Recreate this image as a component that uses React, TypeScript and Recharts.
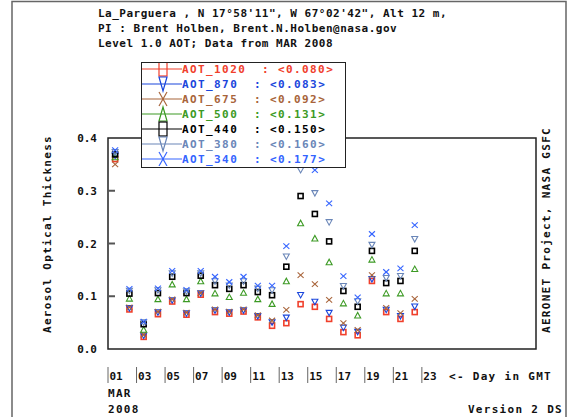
import React from 'react';
import { ScatterChart, Scatter, XAxis, YAxis, ReferenceArea, Legend } from 'recharts';

// day of month (March 2008), daily means plotted at local noon
const days = [1, 2, 3, 4, 5, 6, 7, 8, 9, 10, 11, 12, 13, 14, 15, 16, 17, 18, 19, 20, 21, 22];

const aot1020 = [0.360, 0.075, 0.023, 0.066, 0.090, 0.065, 0.103, 0.070, 0.067, 0.071, 0.060, 0.044, 0.049, 0.085, 0.080, 0.057, 0.032, 0.026, 0.129, 0.070, 0.057, 0.070];
const aot870 = [0.366, 0.077, 0.025, 0.069, 0.092, 0.067, 0.105, 0.073, 0.069, 0.073, 0.062, 0.050, 0.059, 0.102, 0.089, 0.068, 0.040, 0.032, 0.132, 0.074, 0.062, 0.080];
const aot675 = [0.350, 0.079, 0.027, 0.071, 0.094, 0.069, 0.106, 0.075, 0.071, 0.075, 0.064, 0.054, 0.074, 0.140, 0.123, 0.093, 0.049, 0.036, 0.140, 0.078, 0.068, 0.095];
const aot500 = [0.364, 0.096, 0.037, 0.095, 0.123, 0.095, 0.129, 0.106, 0.099, 0.107, 0.095, 0.086, 0.129, 0.239, 0.210, 0.165, 0.087, 0.064, 0.170, 0.106, 0.106, 0.152];
const aot440 = [0.369, 0.105, 0.047, 0.106, 0.137, 0.106, 0.139, 0.121, 0.114, 0.121, 0.108, 0.102, 0.156, 0.290, 0.256, 0.204, 0.110, 0.080, 0.186, 0.125, 0.129, 0.186];
const aot380 = [0.373, 0.110, 0.050, 0.111, 0.143, 0.109, 0.143, 0.128, 0.120, 0.128, 0.114, 0.111, 0.175, 0.339, 0.295, 0.240, 0.119, 0.090, 0.197, 0.134, 0.138, 0.208];
const aot340 = [0.377, 0.114, 0.052, 0.115, 0.148, 0.112, 0.148, 0.137, 0.127, 0.137, 0.120, 0.120, 0.195, 0.385, 0.339, 0.276, 0.138, 0.098, 0.218, 0.146, 0.153, 0.235];

const seriesNames = ['AOT_1020', 'AOT_870', 'AOT_675', 'AOT_500', 'AOT_440', 'AOT_380', 'AOT_340'];
const seriesMeans = ['0.080', '0.083', '0.092', '0.131', '0.150', '0.160', '0.177'];
const yTicks = [0, 0.1, 0.2, 0.3, 0.4];
const xTicks = [1, 3, 5, 7, 9, 11, 13, 15, 17, 19, 21, 23];

const SERIES = [
  { values: aot1020, color: '#f0402c', shape: 'square' },
  { values: aot870, color: '#1a46dc', shape: 'down' },
  { values: aot675, color: '#a8643a', shape: 'x' },
  { values: aot500, color: '#3c9a24', shape: 'up' },
  { values: aot440, color: '#000000', shape: 'square' },
  { values: aot380, color: '#6a86b8', shape: 'down' },
  { values: aot340, color: '#3464ff', shape: 'x' },
].map((s, i) => ({
  ...s,
  name: seriesNames[i],
  mean: seriesMeans[i],
  data: days.map((d, j) => ({ x: d + 0.5, y: s.values[j] })),
}));

const FONT = '"DejaVu Sans Mono", monospace';
const CHAR_W = 8;

const drawMarker = (shape: string, cx: number, cy: number, w: number, h: number, color: string, sw: number) => {
  const l = cx - w / 2, r = cx + w / 2, t = cy - h / 2, b = cy + h / 2;
  switch (shape) {
    case 'square':
      return <rect x={l} y={t} width={w} height={h} fill="none" stroke={color} strokeWidth={sw} />;
    case 'down':
      return <path d={`M${l},${t} L${r},${t} L${cx},${b} Z`} fill="none" stroke={color} strokeWidth={sw} />;
    case 'up':
      return <path d={`M${l},${b} L${r},${b} L${cx},${t} Z`} fill="none" stroke={color} strokeWidth={sw} />;
    default:
      return (
        <g stroke={color} strokeWidth={sw}>
          <line x1={l} y1={t} x2={r} y2={b} />
          <line x1={l} y1={b} x2={r} y2={t} />
        </g>
      );
  }
};

const LegendBox = () => (
  <div style={{ width: 205, height: 106, border: '1.5px solid #222', background: '#fff', boxSizing: 'border-box' }}>
    <svg width={202} height={103} style={{ display: 'block' }}>
      {SERIES.map((s, i) => {
        const y = 6 + i * 15;
        const colonX = 40 + (s.name.length + 2) * CHAR_W;
        return (
          <g key={s.name} fontFamily={FONT} fontWeight="bold" fontSize={11} letterSpacing={1.4} fill={s.color}>
            <line x1={0} x2={40} y1={y} y2={y} stroke={s.color} strokeWidth={1.2} />
            {drawMarker(s.shape, 21, y, 8, 14, s.color, 1.2)}
            <text x={40} y={y + 4}>{s.name}</text>
            <text x={colonX} y={y + 4}>:</text>
            <text x={colonX + 2 * CHAR_W} y={y + 4}>{`<${s.mean}>`}</text>
          </g>
        );
      })}
    </svg>
  </div>
);

const YTick = (props: any) => {
  const { y, payload } = props;
  const v = Number(payload.value);
  return (
    <g>
      <text x={97} y={y + 4} textAnchor="end" fontFamily={FONT} fontWeight="bold" fontSize={11} fill="#111">
        {v.toFixed(1)}
      </text>
      {v > 0 && v < 0.4 && <line x1={108} x2={115} y1={y} y2={y} stroke="#555" strokeWidth={2} />}
    </g>
  );
};

const XTick = (props: any) => {
  const { x, payload } = props;
  return (
    <g>
      <line x1={x} x2={x} y1={367} y2={383} stroke="#666" strokeWidth={1} />
      <text x={x + 1.5} y={380} fontFamily={FONT} fontWeight="bold" fontSize={11} fill="#111">
        {String(payload.value).padStart(2, '0')}
      </text>
    </g>
  );
};

const txt = { fontFamily: FONT, fontWeight: 'bold' as const, fontSize: 11, fill: '#111' };

export default function App() {
  return (
    <div style={{ position: 'absolute', left: 0, top: 0, width: 568, height: 417, background: '#fff', overflow: 'hidden' }}>
      <svg width={568} height={417} style={{ position: 'absolute', left: 0, top: 0 }}>
        <path d="M12,420 L12,1.5 L566,1.5 L566,420" fill="none" stroke="#666" strokeWidth={1.5} />
        <g {...txt} letterSpacing={0.5}>
          <text x={98} y={17}>La_Parguera , N 17°58'11", W 67°02'42", Alt 12 m,</text>
          <text x={98} y={32}>PI : Brent Holben, Brent.N.Holben@nasa.gov</text>
          <text x={98} y={47}>Level 1.0 AOT; Data from MAR 2008</text>
        </g>
        <g {...txt} letterSpacing={1.3}>
          <text x={51} y={234} textAnchor="middle" transform="rotate(-90, 51, 234)">Aerosol Optical Thickness</text>
          <text x={550} y={230} textAnchor="middle" transform="rotate(-90, 550, 230)">AERONET Project, NASA GSFC</text>
          <text x={449} y={380}>{'<- Day in GMT'}</text>
          <text x={108} y={397}>MAR</text>
          <text x={108} y={413}>2008</text>
          <text x={563} y={413} textAnchor="end">Version 2 DS</text>
        </g>
      </svg>
      <div style={{ position: 'absolute', left: 0, top: 0 }}>
        <ScatterChart width={568} height={417} margin={{ top: 138, right: 32, bottom: 38, left: 78 }}>
          <XAxis
            type="number"
            dataKey="x"
            domain={[1, 31]}
            ticks={xTicks}
            height={30}
            axisLine={false}
            tickLine={false}
            tick={XTick}
            interval={0}
          />
          <YAxis
            type="number"
            dataKey="y"
            domain={[0, 0.4]}
            ticks={yTicks}
            width={30}
            axisLine={false}
            tickLine={false}
            tick={YTick}
            interval={0}
          />
          <ReferenceArea x1={1} x2={31} y1={0} y2={0.4} fill="none" stroke="#222" strokeWidth={1.5} fillOpacity={0} />
          {SERIES.map((s) => (
            <Scatter
              key={s.name}
              name={s.name}
              data={s.data}
              isAnimationActive={false}
              shape={(p: any) => drawMarker(s.shape, p.cx, p.cy, s.shape === 'square' ? 5 : 6, s.shape === 'square' ? 5 : 5.5, s.color, s.shape === 'square' ? 1.6 : 1.1)}
            />
          ))}
          <Legend
            layout="vertical"
            align="center"
            verticalAlign="middle"
            content={() => <LegendBox />}
            wrapperStyle={{ left: 141, top: 62, width: 205, height: 106 }}
          />
        </ScatterChart>
      </div>
    </div>
  );
}
